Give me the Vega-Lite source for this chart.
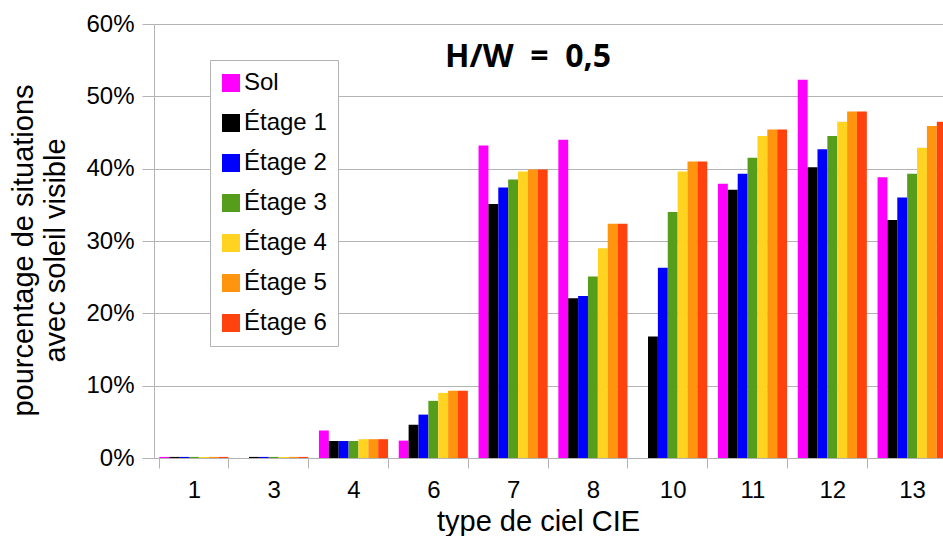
{
  "$schema": "https://vega.github.io/schema/vega-lite/v6.json",
  "autosize": "none",
  "width": 789,
  "height": 434,
  "padding": {"left": 154, "top": 24, "right": 0, "bottom": 78},
  "background": "white",
  "config": {
    "font": "Liberation Sans",
    "view": {"stroke": null}
  },
  "layer": [
    {
      "data": {
        "values": [
          {"ciel": "1", "serie": "Sol", "v": 0.0015},
          {"ciel": "1", "serie": "Étage 1", "v": 0.0015},
          {"ciel": "1", "serie": "Étage 2", "v": 0.0015},
          {"ciel": "1", "serie": "Étage 3", "v": 0.0015},
          {"ciel": "1", "serie": "Étage 4", "v": 0.0015},
          {"ciel": "1", "serie": "Étage 5", "v": 0.0015},
          {"ciel": "1", "serie": "Étage 6", "v": 0.0015},
          {"ciel": "3", "serie": "Sol", "v": 0},
          {"ciel": "3", "serie": "Étage 1", "v": 0.0015},
          {"ciel": "3", "serie": "Étage 2", "v": 0.0015},
          {"ciel": "3", "serie": "Étage 3", "v": 0.0015},
          {"ciel": "3", "serie": "Étage 4", "v": 0.0015},
          {"ciel": "3", "serie": "Étage 5", "v": 0.0015},
          {"ciel": "3", "serie": "Étage 6", "v": 0.0015},
          {"ciel": "4", "serie": "Sol", "v": 0.038},
          {"ciel": "4", "serie": "Étage 1", "v": 0.0235},
          {"ciel": "4", "serie": "Étage 2", "v": 0.0235},
          {"ciel": "4", "serie": "Étage 3", "v": 0.0235},
          {"ciel": "4", "serie": "Étage 4", "v": 0.026},
          {"ciel": "4", "serie": "Étage 5", "v": 0.026},
          {"ciel": "4", "serie": "Étage 6", "v": 0.026},
          {"ciel": "6", "serie": "Sol", "v": 0.024},
          {"ciel": "6", "serie": "Étage 1", "v": 0.046},
          {"ciel": "6", "serie": "Étage 2", "v": 0.060},
          {"ciel": "6", "serie": "Étage 3", "v": 0.079},
          {"ciel": "6", "serie": "Étage 4", "v": 0.090},
          {"ciel": "6", "serie": "Étage 5", "v": 0.093},
          {"ciel": "6", "serie": "Étage 6", "v": 0.093},
          {"ciel": "7", "serie": "Sol", "v": 0.432},
          {"ciel": "7", "serie": "Étage 1", "v": 0.351},
          {"ciel": "7", "serie": "Étage 2", "v": 0.374},
          {"ciel": "7", "serie": "Étage 3", "v": 0.385},
          {"ciel": "7", "serie": "Étage 4", "v": 0.396},
          {"ciel": "7", "serie": "Étage 5", "v": 0.399},
          {"ciel": "7", "serie": "Étage 6", "v": 0.399},
          {"ciel": "8", "serie": "Sol", "v": 0.440},
          {"ciel": "8", "serie": "Étage 1", "v": 0.221},
          {"ciel": "8", "serie": "Étage 2", "v": 0.224},
          {"ciel": "8", "serie": "Étage 3", "v": 0.251},
          {"ciel": "8", "serie": "Étage 4", "v": 0.290},
          {"ciel": "8", "serie": "Étage 5", "v": 0.324},
          {"ciel": "8", "serie": "Étage 6", "v": 0.324},
          {"ciel": "10", "serie": "Sol", "v": 0},
          {"ciel": "10", "serie": "Étage 1", "v": 0.168},
          {"ciel": "10", "serie": "Étage 2", "v": 0.263},
          {"ciel": "10", "serie": "Étage 3", "v": 0.340},
          {"ciel": "10", "serie": "Étage 4", "v": 0.396},
          {"ciel": "10", "serie": "Étage 5", "v": 0.410},
          {"ciel": "10", "serie": "Étage 6", "v": 0.410},
          {"ciel": "11", "serie": "Sol", "v": 0.379},
          {"ciel": "11", "serie": "Étage 1", "v": 0.371},
          {"ciel": "11", "serie": "Étage 2", "v": 0.393},
          {"ciel": "11", "serie": "Étage 3", "v": 0.415},
          {"ciel": "11", "serie": "Étage 4", "v": 0.445},
          {"ciel": "11", "serie": "Étage 5", "v": 0.454},
          {"ciel": "11", "serie": "Étage 6", "v": 0.454},
          {"ciel": "12", "serie": "Sol", "v": 0.523},
          {"ciel": "12", "serie": "Étage 1", "v": 0.402},
          {"ciel": "12", "serie": "Étage 2", "v": 0.427},
          {"ciel": "12", "serie": "Étage 3", "v": 0.445},
          {"ciel": "12", "serie": "Étage 4", "v": 0.465},
          {"ciel": "12", "serie": "Étage 5", "v": 0.479},
          {"ciel": "12", "serie": "Étage 6", "v": 0.479},
          {"ciel": "13", "serie": "Sol", "v": 0.388},
          {"ciel": "13", "serie": "Étage 1", "v": 0.329},
          {"ciel": "13", "serie": "Étage 2", "v": 0.360},
          {"ciel": "13", "serie": "Étage 3", "v": 0.393},
          {"ciel": "13", "serie": "Étage 4", "v": 0.429},
          {"ciel": "13", "serie": "Étage 5", "v": 0.459},
          {"ciel": "13", "serie": "Étage 6", "v": 0.465}
        ]
      },
      "mark": {"type": "bar"},
      "encoding": {
        "x": {
          "field": "ciel",
          "type": "nominal",
          "sort": ["1", "3", "4", "6", "7", "8", "10", "11", "12", "13"],
          "scale": {
            "domain": ["1", "3", "4", "6", "7", "8", "10", "11", "12", "13"],
            "range": [0, 798],
            "paddingInner": 0.134,
            "paddingOuter": 0.067
          },
          "axis": {
            "title": "type de ciel CIE",
            "labelAngle": 0,
            "labelFontSize": 24,
            "labelColor": "#000000",
            "labelPadding": 10,
            "tickBand": "extent",
            "tickSize": 10,
            "tickColor": "#b3b3b3",
            "domainColor": "#b3b3b3",
            "titleFontSize": 29,
            "titleFontWeight": "normal",
            "titleColor": "#000000",
            "titleBaseline": "alphabetic",
            "titleX": 384,
            "titleY": 72,
            "grid": false
          }
        },
        "xOffset": {
          "field": "serie",
          "type": "nominal",
          "sort": ["Sol", "Étage 1", "Étage 2", "Étage 3", "Étage 4", "Étage 5", "Étage 6"],
          "scale": {"paddingInner": 0, "paddingOuter": 0}
        },
        "y": {
          "field": "v",
          "type": "quantitative",
          "scale": {"domain": [0, 0.6], "nice": false},
          "axis": {
            "values": [0, 0.1, 0.2, 0.3, 0.4, 0.5, 0.6],
            "format": ".0%",
            "title": ["pourcentage de situations", "avec soleil visible"],
            "labelFontSize": 24,
            "labelColor": "#000000",
            "labelPadding": 8,
            "tickSize": 12,
            "tickColor": "#b3b3b3",
            "domainColor": "#b3b3b3",
            "gridColor": "#b3b3b3",
            "titleFontSize": 29,
            "titleFontWeight": "normal",
            "titleColor": "#000000",
            "titleLineHeight": 32,
            "titleBaseline": "alphabetic",
            "titleAlign": "center",
            "titleAngle": -90,
            "titleX": -122,
            "titleY": 226
          }
        },
        "color": {
          "field": "serie",
          "type": "nominal",
          "scale": {
            "domain": ["Sol", "Étage 1", "Étage 2", "Étage 3", "Étage 4", "Étage 5", "Étage 6"],
            "range": ["#ff00ff", "#000000", "#0000ff", "#579d1c", "#ffd320", "#ff950e", "#ff420e"]
          },
          "legend": {
            "title": null,
            "orient": "none",
            "legendX": 56,
            "legendY": 36,
            "strokeColor": "#b3b3b3",
            "fillColor": "#ffffff",
            "padding": 11,
            "symbolType": "square",
            "symbolSize": 324,
            "symbolStrokeWidth": 0,
            "symbolOffset": -2,
            "labelFontSize": 24,
            "labelColor": "#000000",
            "labelOffset": 1,
            "rowPadding": 16
          }
        }
      }
    },
    {
      "data": {"values": [{"label": "H/W\u00a0\u00a0=\u00a0\u00a00,5", "ciel": "7", "v": 0.540}]},
      "mark": {
        "type": "text",
        "align": "left",
        "baseline": "alphabetic",
        "font": "Open Sans",
        "fontWeight": "bold",
        "fontSize": 32,
        "color": "#000000",
        "dx": -68
      },
      "encoding": {
        "text": {"field": "label", "type": "nominal"},
        "x": {"field": "ciel", "type": "nominal", "sort": ["1", "3", "4", "6", "7", "8", "10", "11", "12", "13"]},
        "y": {"field": "v", "type": "quantitative"}
      }
    }
  ]
}
